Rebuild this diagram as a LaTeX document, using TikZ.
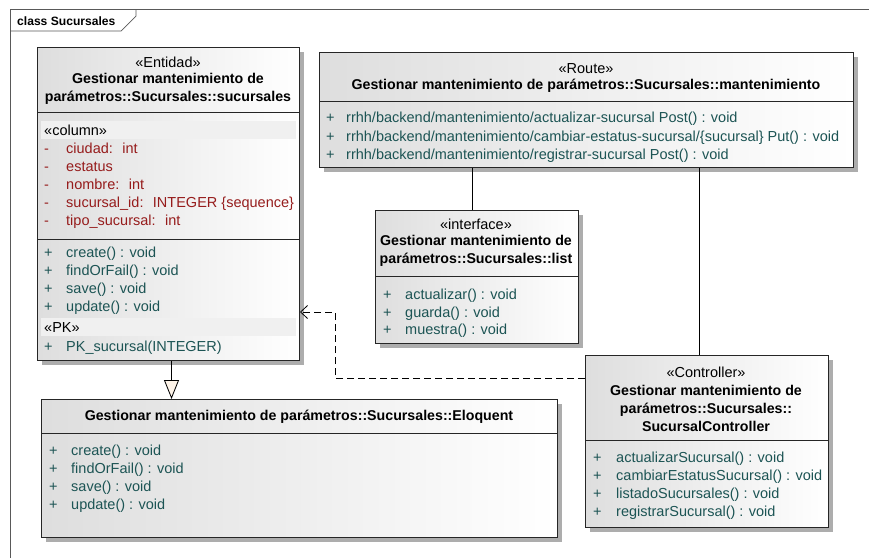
\documentclass[tikz,border=0pt]{standalone}
\usepackage{fontspec}
\setmainfont{Liberation Sans}
\usetikzlibrary{arrows.meta,shadows}
\definecolor{attrred}{RGB}{150,28,28}
\definecolor{opteal}{RGB}{28,84,84}
\definecolor{trifill}{RGB}{253,243,232}

\tikzset{
  umlbox/.style={draw=black!85, line width=1pt, anchor=north west, inner sep=0pt,
    left color=black!13, right color=white,
    drop shadow={shadow xshift=4pt, shadow yshift=-4pt, fill=black!32, opacity=1}},
  divider/.style={draw=black!85, line width=0.9pt},
  band/.style={fill=black!6},
  txt/.style={font=\fontsize{14.5}{18}\selectfont, inner sep=0pt, text height=12pt, text depth=2pt},
  hdr/.style={txt, font=\bfseries\fontsize{14.2}{18}\selectfont, align=center, text height=, text depth=},
  attr/.style={txt, anchor=west, text=attrred},
  op/.style={txt, anchor=west, text=opteal},
  assoc/.style={draw=black, line width=0.8pt},
  dep/.style={draw=black, line width=0.8pt, dash pattern=on 7pt off 4pt,
    -{Straight Barb[length=7pt,width=13pt]}},
  gen/.style={draw=black, line width=0.8pt, -{Triangle[length=19pt,width=15pt,fill=trifill]}}
}

\begin{document}
\begin{tikzpicture}[x=1pt,y=-1pt]
  \useasboundingbox (0,0) rectangle (869,558);
  % Frame
  \draw[black!65, line width=0.7pt] (10,558) -- (10,9) -- (869,9);
  \draw[black!65, line width=0.7pt] (10,31) -- (121,31) -- (136,16) -- (136,9);
  \node[txt, anchor=west, font=\bfseries\fontsize{12.1}{14}\selectfont] (frametitle) at (17,20) {class Sucursales};

  % Entidad: sucursales
  \node[umlbox, minimum width=262pt, minimum height=313pt] (ent) at (37,47) {};
  \draw[divider] (ent.west |- 0,112) -- (ent.east |- 0,112);
  \draw[divider] (ent.west |- 0,239) -- (ent.east |- 0,239);
  \node[txt] (ent-st) at (168,62) {«Entidad»};
  \node[hdr] (ent-name) at (168,89) {Gestionar mantenimiento de\\parámetros::Sucursales::sucursales};
  \fill[band] (41,121) rectangle (296,139);
  \node[txt, anchor=west] (ent-col) at (44,130) {«column»};
  \foreach \a [count=\i] in {ciudad:~ int, estatus, nombre:~ int,
      sucursal\_id:~ INTEGER \{sequence\}, tipo\_sucursal:~ int} {
    \node[attr] (ent-av\i) at (44,{130+18*\i}) {-};
    \node[attr] (ent-a\i) at (66,{130+18*\i}) {\a};
  }
  \foreach \o [count=\i] in {create() : void, findOrFail() : void, save() : void, update() : void} {
    \node[op] (ent-ov\i) at (44,{234+18*\i}) {+};
    \node[op] (ent-o\i) at (66,{234+18*\i}) {\o};
  }
  \fill[band] (41,318) rectangle (296,336);
  \node[txt, anchor=west] (ent-pk) at (44,327) {«PK»};
  \node[op] (ent-pkv) at (44,346) {+};
  \node[op] (ent-pko) at (66,346) {PK\_sucursal(INTEGER)};

  % Route: mantenimiento
  \node[umlbox, minimum width=534pt, minimum height=115pt] (route) at (319,52) {};
  \draw[divider] (route.west |- 0,101) -- (route.east |- 0,101);
  \node[txt] (route-st) at (586,68) {«Route»};
  \node[hdr] (route-name) at (586,86) {Gestionar mantenimiento de parámetros::Sucursales::mantenimiento};
  \foreach \o [count=\i] in {rrhh/backend/mantenimiento/actualizar-sucursal Post() : void,
      rrhh/backend/mantenimiento/cambiar-estatus-sucursal/\{sucursal\} Put() : void,
      rrhh/backend/mantenimiento/registrar-sucursal Post() : void} {
    \node[op] (route-ov\i) at (326,{99+18.5*\i}) {+};
    \node[op] (route-o\i) at (346,{99+18.5*\i}) {\o};
  }

  % Interface: list
  \node[umlbox, minimum width=203pt, minimum height=133pt] (iface) at (375,210) {};
  \draw[divider] (iface.west |- 0,276) -- (iface.east |- 0,276);
  \node[txt] (iface-st) at (476,224) {«interface»};
  \node[hdr] (iface-name) at (476,251) {Gestionar mantenimiento de\\parámetros::Sucursales::list};
  \foreach \o [count=\i] in {actualizar() : void, guarda() : void, muestra() : void} {
    \node[op] (iface-ov\i) at (383,{277+17.5*\i}) {+};
    \node[op] (iface-o\i) at (405,{277+17.5*\i}) {\o};
  }

  % Controller: SucursalController
  \node[umlbox, minimum width=243pt, minimum height=172pt] (ctrl) at (585,355) {};
  \draw[divider] (ctrl.west |- 0,440) -- (ctrl.east |- 0,440);
  \node[txt] (ctrl-st) at (706,372) {«Controller»};
  \node[hdr] (ctrl-name) at (706,408) {Gestionar mantenimiento de\\parámetros::Sucursales::\\SucursalController};
  \foreach \o [count=\i] in {actualizarSucursal() : void, cambiarEstatusSucursal() : void,
      listadoSucursales() : void, registrarSucursal() : void} {
    \node[op] (ctrl-ov\i) at (593,{439+18*\i}) {+};
    \node[op] (ctrl-o\i) at (616,{439+18*\i}) {\o};
  }

  % Eloquent
  \node[umlbox, minimum width=516pt, minimum height=138pt] (eloq) at (41,399) {};
  \draw[divider] (eloq.west |- 0,433) -- (eloq.east |- 0,433);
  \node[hdr] (eloq-name) at (299,417) {Gestionar mantenimiento de parámetros::Sucursales::Eloquent};
  \foreach \o [count=\i] in {create() : void, findOrFail() : void, save() : void, update() : void} {
    \node[op] (eloq-ov\i) at (49,{433+17.8*\i}) {+};
    \node[op] (eloq-o\i) at (71,{433+17.8*\i}) {\o};
  }

  % Associations
  \draw[assoc] ([xshift=-5pt]iface.north |- route.south) -- ([xshift=-5pt]iface.north);
  \draw[assoc] ([xshift=-8pt]ctrl.north |- route.south) -- ([xshift=-8pt]ctrl.north);
  % Dependency
  \coordinate (depbend) at (335,312);
  \draw[dep] ([yshift=-23pt]ctrl.north west) -| (depbend) -- (ent.east |- depbend);
  % Generalization
  \draw[gen] ([xshift=3pt]ent.south) -- ([xshift=3pt]ent.south |- eloq.north);
\end{tikzpicture}
\end{document}
